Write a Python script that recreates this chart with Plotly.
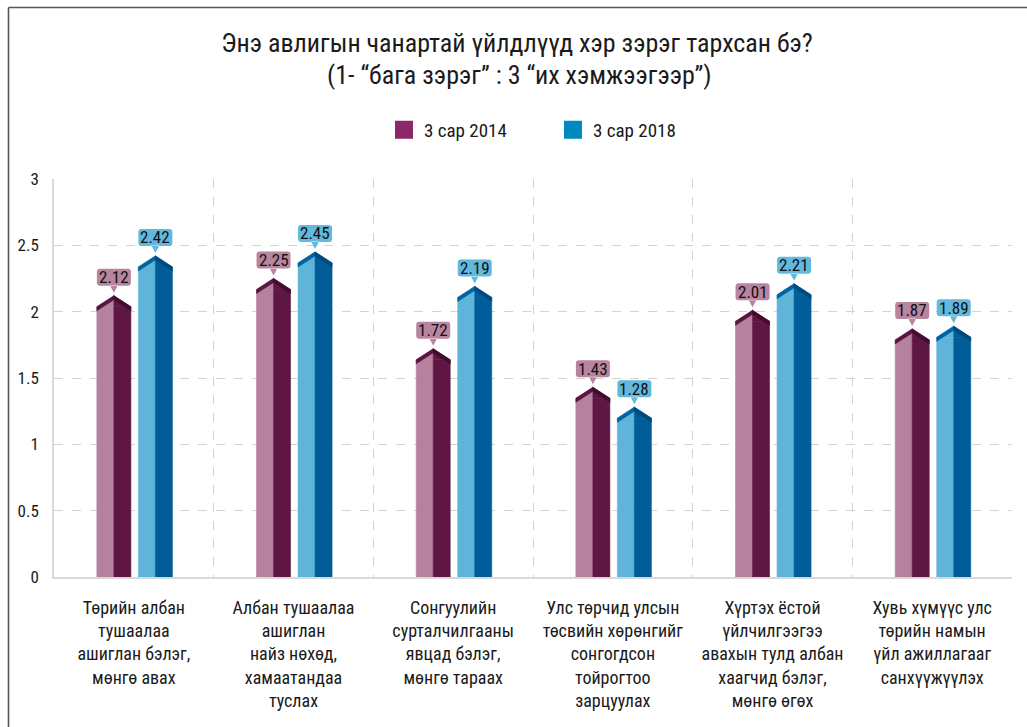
import plotly.graph_objects as go

# ---------------- data ----------------
categories = [
    "Төрийн албан<br>тушаалаа<br>ашиглан бэлэг,<br>мөнгө авах",
    "Албан тушаалаа<br>ашиглан<br>найз нөхөд,<br>хамаатандаа<br>туслах",
    "Сонгуулийн<br>сурталчилгааны<br>явцад бэлэг,<br>мөнгө тараах",
    "Улс төрчид улсын<br>төсвийн хөрөнгийг<br>сонгогдсон<br>тойрогтоо<br>зарцуулах",
    "Хүртэх ёстой<br>үйлчилгээгээ<br>авахын тулд албан<br>хаагчид бэлэг,<br>мөнгө өгөх",
    "Хувь хүмүүс улс<br>төрийн намын<br>үйл ажиллагааг<br>санхүүжүүлэх",
]
series_names = ["3 сар 2014", "3 сар 2018"]
values_2014 = [2.12, 2.25, 1.72, 1.43, 2.01, 1.87]
values_2018 = [2.42, 2.45, 2.19, 1.28, 2.21, 1.89]
y_tickvals = [0, 0.5, 1, 1.5, 2, 2.5, 3]
title_line1 = "Энэ авлигын чанартай үйлдлүүд хэр зэрэг тархсан бэ?"
title_line2 = "(1- “бага зэрэг” : 3 “их хэмжээгээр”)"

# ---------------- layout constants ----------------
FONT = "Roboto Condensed, Liberation Sans Narrow, DejaVu Sans Condensed, Roboto, sans-serif"
W, H = 1027, 727
ML, MR, MT, MB = 54, 15, 179, 150
N = len(categories)
PX_X = (W - ML - MR) / N          # pixels per category unit
PX_Y = (H - MT - MB) / 3.0        # pixels per value unit
HW = 17 / PX_X                    # half-bar width (each facet)
DROP = 11 / PX_Y                  # roof height
EDGE = 4 / PX_Y                   # roof edge thickness

series = [
    dict(name=series_names[0], values=values_2014, offset=-0.125,
         light="#b5819f", dark="#5e1743", edge1="#5a1440", edge2="#410d2e",
         label="#b8849f", legend="#8a2868"),
    dict(name=series_names[1], values=values_2018, offset=0.135,
         light="#5fb4da", dark="#005d99", edge1="#0064a2", edge2="#004a7e",
         label="#63b8de", legend="#0089bf"),
]


def polys(list_of_pts):
    xs, ys = [], []
    for pts in list_of_pts:
        for (px, py) in pts:
            xs.append(px)
            ys.append(py)
        xs.append(pts[0][0])
        ys.append(pts[0][1])
        xs.append(None)
        ys.append(None)
    return xs, ys


fig = go.Figure()

# bar bodies (two facets each)
for s in series:
    xc = [i + s["offset"] for i in range(N)]
    body = [v - DROP for v in s["values"]]
    fig.add_bar(x=[x - HW / 2 for x in xc], y=body, width=HW,
                marker=dict(color=s["light"], line=dict(width=0.6, color=s["light"])),
                showlegend=False, hoverinfo="skip")
    fig.add_bar(x=[x + HW / 2 for x in xc], y=body, width=HW,
                marker=dict(color=s["dark"], line=dict(width=0.6, color=s["dark"])),
                showlegend=False, hoverinfo="skip")

# roofs
for s in series:
    xc = [i + s["offset"] for i in range(N)]
    vals = s["values"]
    lf = [[(x - HW, v - DROP), (x, v), (x, v - DROP)] for x, v in zip(xc, vals)]
    rf = [[(x, v - DROP), (x, v), (x + HW, v - DROP)] for x, v in zip(xc, vals)]
    le = [[(x - HW, v - DROP), (x, v), (x, v - EDGE), (x - HW, v - DROP - EDGE)] for x, v in zip(xc, vals)]
    re = [[(x, v), (x + HW, v - DROP), (x + HW, v - DROP - EDGE), (x, v - EDGE)] for x, v in zip(xc, vals)]
    for pts, col in [(lf, s["light"]), (rf, s["dark"]), (le, s["edge1"]), (re, s["edge2"])]:
        px_, py_ = polys(pts)
        fig.add_scatter(x=px_, y=py_, mode="lines", fill="toself", fillcolor=col,
                        line=dict(width=0.6, color=col), showlegend=False, hoverinfo="skip")

# legend entries
for s in series:
    fig.add_scatter(x=[None], y=[None], mode="markers", name=s["name"],
                    marker=dict(symbol="square", size=16, color=s["legend"],
                                line=dict(width=2, color=s["legend"])))

# value labels (callout boxes)
box_path = ("M -14,10 L 14,10 Q 17,10 17,13 L 17,24 Q 17,27 14,27 L -14,27 "
            "Q -17,27 -17,24 L -17,13 Q -17,10 -14,10 Z M -4,10.5 L 4,10.5 L 0,3 Z")
shapes = []
annotations = []
for s in series:
    for i, v in enumerate(s["values"]):
        x = i + s["offset"]
        shapes.append(dict(type="path", xref="x", yref="y", xsizemode="pixel", ysizemode="pixel",
                           xanchor=x, yanchor=v, path=box_path, fillcolor=s["label"],
                           line=dict(width=0), layer="above"))
        annotations.append(dict(x=x, y=v, xref="x", yref="y", text=f"{v:.2f}", showarrow=False,
                                yshift=18.5, font=dict(family=FONT, size=17, color="#111111")))

# outer frame (top and left lines)
fx0 = (8.5 - ML) / (W - ML - MR)
fx1 = (W + 5 - ML) / (W - ML - MR)
fy_top = (H - MB - 7.5) / (H - MT - MB)
fy_bot = (H - MB - H - 5) / (H - MT - MB)
shapes.append(dict(type="line", xref="paper", yref="paper", x0=fx0, x1=fx1, y0=fy_top, y1=fy_top,
                   line=dict(color="#555555", width=1.6)))
shapes.append(dict(type="line", xref="paper", yref="paper", x0=fx0, x1=fx0, y0=fy_top, y1=fy_bot,
                   line=dict(color="#555555", width=1.6)))

# title second line
annotations.append(dict(x=(519 - ML) / (W - ML - MR), y=(H - MB - 75) / (H - MT - MB),
                        xref="paper", yref="paper", text=title_line2, showarrow=False,
                        xanchor="center", yanchor="middle",
                        font=dict(family=FONT, size=26, color="#1a1a1a")))

fig.update_layout(
    width=W, height=H,
    margin=dict(l=ML, r=MR, t=MT, b=MB, autoexpand=False),
    paper_bgcolor="white", plot_bgcolor="white",
    barmode="overlay",
    font=dict(family=FONT, color="#1a1a1a"),
    title=dict(text=title_line1, x=517 / W, xanchor="center", xref="container",
               y=1 - 43 / H, yanchor="middle", yref="container",
               font=dict(family=FONT, size=26, color="#1a1a1a")),
    legend=dict(orientation="h", x=(384 - ML) / (W - ML - MR), xanchor="left",
                y=(H - MB - 130) / (H - MT - MB), yanchor="middle",
                entrywidth=124, font=dict(family=FONT, size=19, color="#1a1a1a"),
                bgcolor="rgba(0,0,0,0)"),
    shapes=shapes, annotations=annotations,
)

fig.update_xaxes(range=[-0.5, N - 0.5], tickvals=list(range(N)), ticktext=categories,
                 showgrid=False, zeroline=False, showline=True, linecolor="#d9d9d9", linewidth=2,
                 ticks="", ticklabelstandoff=13,
                 tickfont=dict(family=FONT, size=18, color="#1a1a1a"),
                 minor=dict(tickvals=[i + 0.5 for i in range(N - 1)], showgrid=True,
                            gridcolor="#d3d3d3", griddash="dash", gridwidth=1, ticks=""))
fig.update_yaxes(range=[0, 3], tickvals=y_tickvals, showgrid=True, gridcolor="#d3d3d3",
                 griddash="dash", gridwidth=1, zeroline=False, showline=True,
                 linecolor="#d9d9d9", linewidth=1.5, ticks="", ticklabelstandoff=10,
                 tickfont=dict(family=FONT, size=17, color="#1a1a1a"))

fig.write_html("out.html", config={"displayModeBar": False},
               post_script="document.body.style.margin='0';")
